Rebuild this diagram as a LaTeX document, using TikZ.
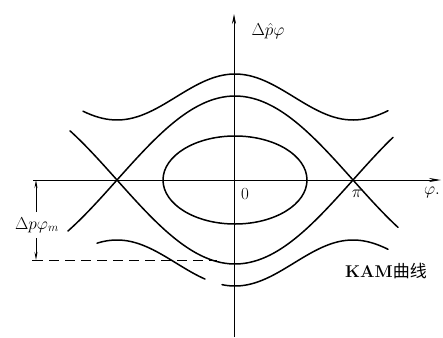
\documentclass[tikz,border=0pt]{standalone}
\usepackage{fontspec}
\newfontfamily\cjk{Noto Sans CJK SC}
\usetikzlibrary{arrows.meta}
\begin{document}
\begin{tikzpicture}[x=1pt,y=-1pt,
  curve/.style={line width=1.5pt,line cap=round,smooth,samples=80},
  axis/.style={line width=0.8pt},
  lbl/.style={inner sep=0pt,font=\fontsize{17}{20}\selectfont}]
\useasboundingbox (0,0) rectangle (443,337);
% axes
\coordinate (vb) at (234,337);
\coordinate (vt) at (234,14);
\coordinate (hl) at (33,180);
\coordinate (hr) at (441,180);
\draw[axis,-{Stealth[length=10pt,width=4pt]}] (vb) -- (vt);
\draw[axis,-{Stealth[length=12pt,width=4pt]}] (hl) -- (hr);
% inner ellipse
\draw[curve] (235,180) ellipse [x radius=72, y radius=44];
% separatrices
\draw[curve] plot[domain=68:398] (\x,{180-84*cos((\x-235)/118*90)});
\draw[curve] plot[domain=70:393] (\x,{180+84*cos((\x-235)/118*90)});
% KAM curves
\draw[curve] plot[domain=83:388] (\x,{180-(83+23*cos((\x-235)/118*180))});
\draw[curve] plot[domain=97:205] (\x,{180+(83+23*cos((\x-235)/118*180))});
\draw[curve] plot[domain=222:388] (\x,{180+(83+23*cos((\x-235)/118*180))});
% dimension
\coordinate (dl) at (33,260);
\coordinate (dr) at (217,260);
\draw[line width=1pt,dash pattern=on 10pt off 6pt] (dl) -- (dr);
\draw[line width=1pt] (32,260) -- (42,260);
\node[lbl] (dp) at (37,225) {$\Delta p\varphi_{m}$};
\coordinate (dtop) at (36,180);
\coordinate (dbot) at (36,260);
\draw[line width=0.9pt,-{Stealth[length=8pt,width=3pt]}] (36,212) -- (dtop);
\draw[line width=0.9pt,-{Stealth[length=8pt,width=3pt]}] (36,238) -- (dbot);
% labels
\node[lbl] (py) at (268,31) {$\Delta\hat{p}\varphi$};
\node[lbl] (zero) at (245,194) {0};
\node[lbl] (pi) at (357,194) {$\pi$};
\node[lbl] (phx) at (432,192) {$\varphi.$};
\node[lbl] (kam) at (386,271) {\textbf{KAM}{\cjk 曲线}};
\end{tikzpicture}
\end{document}
